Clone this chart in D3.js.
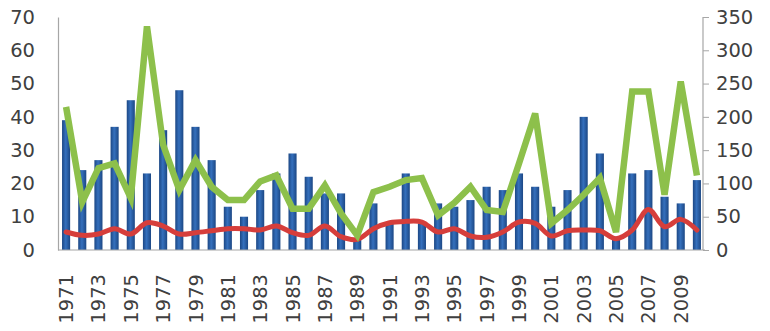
<!DOCTYPE html>
<html>
<head>
<meta charset="utf-8">
<script src="https://cdnjs.cloudflare.com/ajax/libs/d3/7.8.5/d3.min.js"></script>
<style>
    body { margin: 0; background: #fff; }
    text { font-family: "DejaVu Sans", sans-serif; fill: #404040; }
</style>
</head>
<body>
<svg id="chart" width="770" height="331"></svg>
<script>
var years = d3.range(1971, 2011);

var barValues = [39, 24, 27, 37, 45, 23, 36, 48, 37, 27,
    13, 10, 18, 23, 29, 22, 17, 17, 3, 14,
    8, 23, 8, 14, 13, 15, 19, 18, 23, 19,
    13, 18, 40, 29, 4, 23, 24, 16, 14, 21];

var greenValues = [215, 72, 123, 130, 78, 336, 158, 90, 135, 95,
    75, 75, 103, 112, 62, 62, 97, 55, 22, 87,
    95, 105, 108, 52, 71, 95, 60, 57, 130, 205,
    40, 60, 83, 108, 27, 238, 238, 83, 253, 112];

var redValues = [27, 22, 24, 32, 24, 41, 36, 24, 26, 29,
    32, 32, 30, 36, 26, 22, 36, 20, 16, 32,
    41, 43, 42, 27, 32, 21, 19, 27, 42, 40,
    21, 29, 30, 29, 17, 30, 61, 35, 46, 30];

var leftTicks = [0, 10, 20, 30, 40, 50, 60, 70];
var rightTicks = [0, 50, 100, 150, 200, 250, 300, 350];
var yearLabels = years.filter(function (d) { return d % 2 === 1; });

var svg = d3.select("#chart"),
    plotLeft = 58,
    plotRight = 705,
    plotTop = 17,
    plotBottom = 250;

var x = d3.scaleBand()
    .domain(years)
    .range([plotLeft, plotRight])
    .paddingInner(0.5)
    .paddingOuter(0.25);

var yLeft = d3.scaleLinear().domain([0, 70]).range([plotBottom, plotTop]);
var yRight = d3.scaleLinear().domain([0, 350]).range([plotBottom, plotTop]);

function cx(d, i) {
    return x(years[i]) + x.bandwidth() / 2;
}

// bar shading
var grad = svg.append("defs").append("linearGradient")
    .attr("id", "barGrad")
    .attr("x1", "0%").attr("x2", "100%")
    .attr("y1", "0%").attr("y2", "0%");
grad.append("stop").attr("offset", "0%").attr("stop-color", "#1c4784");
grad.append("stop").attr("offset", "45%").attr("stop-color", "#3570bd");
grad.append("stop").attr("offset", "100%").attr("stop-color", "#1c4784");

svg.append("g")
    .attr("class", "bars")
    .selectAll("rect")
    .data(barValues)
    .enter().append("rect")
    .attr("x", function (d, i) {
        return x(years[i]);
    })
    .attr("width", x.bandwidth())
    .attr("y", function (d) {
        return yLeft(d);
    })
    .attr("height", function (d) {
        return plotBottom - yLeft(d);
    })
    .attr("fill", "url(#barGrad)");

var greenLine = d3.line()
    .x(cx)
    .y(function (d) {
        return yRight(d);
    });

var redLine = d3.line()
    .x(cx)
    .y(function (d) {
        return yRight(d);
    })
    .curve(d3.curveCatmullRom);

svg.append("path")
    .datum(redValues)
    .attr("d", redLine)
    .attr("fill", "none")
    .attr("stroke", "#d63e3b")
    .attr("stroke-width", 5)
    .attr("stroke-linejoin", "round")
    .attr("stroke-linecap", "round");

svg.append("path")
    .datum(greenValues)
    .attr("d", greenLine)
    .attr("fill", "none")
    .attr("stroke", "#8dc04b")
    .attr("stroke-width", 6.5)
    .attr("stroke-linejoin", "miter");

// axes
var axisLeft = svg.append("g")
    .attr("transform", "translate(" + plotLeft + ",0)")
    .call(d3.axisLeft(yLeft).tickValues(leftTicks).tickSize(0).tickPadding(23));

var axisRight = svg.append("g")
    .attr("transform", "translate(" + (plotRight - 2) + ",0)")
    .call(d3.axisRight(yRight).tickValues(rightTicks).tickSize(6).tickPadding(7));

var axisBottom = svg.append("g")
    .attr("transform", "translate(0," + plotBottom + ")")
    .call(d3.axisBottom(x).tickValues(yearLabels).tickSize(0).tickPadding(0));

axisBottom.selectAll("text")
    .attr("transform", "rotate(-90)")
    .attr("x", -24)
    .attr("y", 0)
    .attr("dy", "0.36em")
    .attr("text-anchor", "end");

[axisLeft, axisRight, axisBottom].forEach(function (g) {
    g.selectAll(".domain").attr("stroke", "#a6a6a6").attr("stroke-width", 1.2);
    g.selectAll(".tick line").attr("stroke", "#a6a6a6");
    g.selectAll("text")
        .style("font-size", "19.5px")
        .style("fill", "#404040");
});
axisRight.select(".domain").attr("d", "M0," + plotTop + "V" + plotBottom);
axisBottom.select(".domain").attr("d", "M" + plotLeft + ",0H" + plotRight);
</script>
</body>
</html>
